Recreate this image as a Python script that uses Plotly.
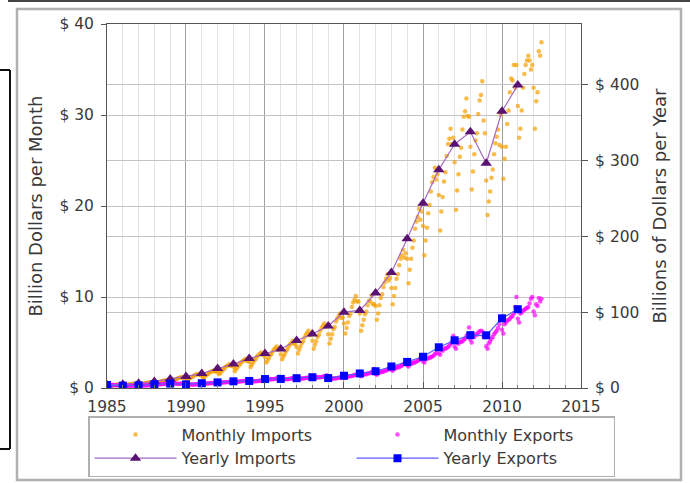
import plotly.graph_objects as go

# ---------------- data ----------------
years_monthly = list(range(1985, 2013))
years_yearly = list(range(1985, 2012))

# yearly totals, billions of dollars per year (right axis)
yearly_imports = [3.9, 4.8, 6.3, 8.5, 12.0, 15.2, 19.0, 25.7, 31.5, 38.8, 45.5, 51.5,
                  62.6, 71.2, 81.8, 100.0, 102.3, 125.2, 152.4, 196.7, 243.5, 287.8,
                  321.4, 337.8, 296.4, 364.9, 399.4]
yearly_exports = [3.9, 3.1, 3.5, 5.0, 5.8, 4.8, 6.3, 7.4, 8.8, 9.3, 11.8, 12.0,
                  12.9, 14.2, 13.1, 16.2, 19.2, 22.1, 28.4, 34.4, 41.2, 53.7,
                  62.9, 69.7, 69.5, 91.9, 103.9]

# monthly values, billions of dollars per month (left axis), one row per year
monthly_imports = [
    [0.30, 0.25, 0.26, 0.28, 0.30, 0.31, 0.34, 0.35, 0.37, 0.38, 0.34, 0.36],
    [0.36, 0.30, 0.32, 0.35, 0.38, 0.40, 0.42, 0.45, 0.46, 0.48, 0.45, 0.43],
    [0.45, 0.38, 0.42, 0.45, 0.50, 0.52, 0.56, 0.58, 0.60, 0.63, 0.58, 0.57],
    [0.60, 0.52, 0.56, 0.62, 0.68, 0.71, 0.76, 0.80, 0.82, 0.86, 0.80, 0.77],
    [0.85, 0.72, 0.78, 0.86, 0.95, 1.00, 1.08, 1.12, 1.16, 1.22, 1.14, 1.10],
    [1.12, 0.92, 0.98, 1.08, 1.20, 1.25, 1.35, 1.42, 1.48, 1.55, 1.45, 1.40],
    [1.38, 1.10, 1.22, 1.35, 1.48, 1.56, 1.70, 1.78, 1.85, 1.92, 1.80, 1.82],
    [1.85, 1.50, 1.65, 1.85, 2.00, 2.10, 2.30, 2.42, 2.50, 2.60, 2.45, 2.45],
    [2.30, 1.85, 2.05, 2.25, 2.48, 2.60, 2.82, 2.95, 3.05, 3.20, 3.00, 3.00],
    [2.85, 2.30, 2.55, 2.80, 3.05, 3.20, 3.45, 3.60, 3.75, 3.90, 3.65, 3.65],
    [3.40, 2.80, 3.05, 3.30, 3.60, 3.75, 4.05, 4.25, 4.40, 4.55, 4.20, 4.25],
    [3.70, 3.15, 3.45, 3.70, 4.05, 4.25, 4.55, 4.80, 4.95, 5.20, 4.90, 4.80],
    [4.50, 3.80, 4.20, 4.55, 4.95, 5.15, 5.55, 5.85, 6.05, 6.30, 5.80, 5.85],
    [5.20, 4.30, 4.75, 5.15, 5.60, 5.85, 6.30, 6.60, 6.85, 7.10, 6.70, 6.75],
    [5.90, 4.90, 5.40, 5.90, 6.45, 6.70, 7.30, 7.65, 7.90, 8.20, 7.70, 7.75],
    [7.10, 6.00, 6.60, 7.20, 7.90, 8.20, 8.90, 9.40, 9.70, 10.10, 9.50, 9.50],
    [8.20, 6.30, 6.90, 7.50, 8.10, 8.40, 9.10, 9.60, 9.50, 10.20, 9.20, 9.20],
    [9.00, 7.50, 8.20, 9.10, 9.90, 10.30, 11.10, 11.60, 12.00, 12.50, 11.80, 12.10],
    [11.00, 9.20, 10.10, 11.00, 12.00, 12.50, 13.50, 14.20, 14.60, 15.20, 14.30, 14.80],
    [14.20, 11.50, 13.00, 14.20, 15.40, 16.20, 17.50, 18.30, 18.80, 19.70, 18.50, 19.40],
    [17.80, 14.60, 16.20, 17.60, 19.20, 20.10, 21.60, 22.60, 23.20, 24.20, 22.90, 23.50],
    [21.20, 17.30, 19.40, 21.00, 22.70, 23.70, 25.50, 26.80, 27.40, 28.50, 26.80, 27.50],
    [24.80, 19.60, 21.70, 23.50, 25.40, 26.40, 28.40, 29.80, 30.40, 31.80, 29.90, 29.80],
    [26.50, 21.80, 23.80, 25.70, 27.20, 28.00, 30.10, 31.60, 32.20, 33.70, 29.40, 28.00],
    [22.80, 19.00, 20.50, 21.60, 23.10, 24.00, 25.70, 26.90, 27.60, 28.40, 26.70, 30.00],
    [26.50, 23.00, 25.20, 26.50, 29.00, 30.50, 32.50, 34.00, 33.80, 35.50, 33.00, 35.50],
    [31.00, 27.50, 28.50, 30.50, 33.00, 34.50, 35.50, 36.00, 36.50, 36.00, 35.00, 35.50],
    [33.00, 28.50, 31.50, 32.50, 37.00, 36.50, 38.00],
]
monthly_exports = [
    [0.30, 0.28, 0.33, 0.30, 0.35, 0.32, 0.29, 0.31, 0.30, 0.34, 0.36, 0.36],
    [0.24, 0.22, 0.27, 0.25, 0.26, 0.27, 0.24, 0.25, 0.27, 0.28, 0.26, 0.29],
    [0.25, 0.24, 0.28, 0.27, 0.30, 0.28, 0.29, 0.31, 0.30, 0.31, 0.32, 0.33],
    [0.34, 0.33, 0.38, 0.40, 0.42, 0.41, 0.43, 0.44, 0.45, 0.46, 0.47, 0.51],
    [0.45, 0.42, 0.48, 0.50, 0.52, 0.46, 0.44, 0.47, 0.46, 0.50, 0.51, 0.55],
    [0.38, 0.35, 0.40, 0.38, 0.42, 0.39, 0.37, 0.40, 0.41, 0.42, 0.43, 0.45],
    [0.45, 0.42, 0.50, 0.48, 0.52, 0.50, 0.53, 0.54, 0.55, 0.56, 0.57, 0.62],
    [0.52, 0.50, 0.60, 0.58, 0.62, 0.61, 0.63, 0.65, 0.64, 0.68, 0.66, 0.75],
    [0.62, 0.58, 0.70, 0.68, 0.72, 0.71, 0.74, 0.76, 0.75, 0.80, 0.80, 0.90],
    [0.70, 0.65, 0.75, 0.72, 0.78, 0.74, 0.76, 0.78, 0.80, 0.82, 0.83, 0.90],
    [0.85, 0.82, 0.95, 0.92, 0.98, 0.96, 0.97, 1.00, 1.02, 1.05, 1.06, 1.20],
    [0.90, 0.85, 0.98, 0.95, 1.00, 0.97, 0.98, 1.02, 1.04, 1.06, 1.07, 1.18],
    [0.95, 0.90, 1.05, 1.00, 1.06, 1.04, 1.06, 1.10, 1.12, 1.14, 1.15, 1.27],
    [1.05, 1.00, 1.15, 1.12, 1.20, 1.15, 1.18, 1.22, 1.25, 1.27, 1.28, 1.41],
    [0.98, 0.92, 1.05, 1.02, 1.08, 1.05, 1.07, 1.10, 1.12, 1.15, 1.17, 1.37],
    [1.15, 1.10, 1.28, 1.25, 1.32, 1.30, 1.33, 1.38, 1.42, 1.45, 1.48, 1.74],
    [1.40, 1.30, 1.50, 1.45, 1.55, 1.52, 1.58, 1.62, 1.65, 1.75, 1.80, 2.08],
    [1.55, 1.45, 1.70, 1.68, 1.80, 1.75, 1.82, 1.88, 1.92, 2.00, 2.10, 2.43],
    [2.00, 1.90, 2.20, 2.15, 2.30, 2.25, 2.32, 2.40, 2.48, 2.60, 2.70, 3.00],
    [2.50, 2.35, 2.70, 2.65, 2.80, 2.75, 2.82, 2.90, 2.98, 3.10, 3.25, 3.60],
    [2.95, 2.80, 3.25, 3.20, 3.35, 3.30, 3.38, 3.45, 3.55, 3.70, 3.85, 4.40],
    [3.80, 3.65, 4.20, 4.10, 4.35, 4.30, 4.40, 4.50, 4.65, 4.85, 5.05, 5.75],
    [4.55, 4.30, 5.00, 4.85, 5.10, 5.05, 5.15, 5.30, 5.45, 5.70, 5.90, 6.65],
    [5.30, 5.00, 5.70, 5.60, 5.90, 5.85, 6.10, 6.20, 6.30, 6.20, 5.70, 5.85],
    [4.60, 4.30, 4.90, 5.10, 5.40, 5.60, 5.90, 6.10, 6.30, 6.60, 7.00, 7.70],
    [6.40, 6.00, 7.00, 7.20, 7.40, 7.50, 7.60, 7.80, 7.90, 8.20, 8.90, 10.00],
    [7.60, 7.20, 8.20, 8.30, 8.50, 8.60, 8.70, 8.80, 8.90, 9.30, 9.80, 10.00],
    [8.40, 8.00, 9.20, 9.00, 9.90, 9.50, 9.80],
]

left_ticks = [0, 10, 20, 30, 40]
right_ticks = [0, 100, 200, 300, 400]


def month_dates(year_list, rows):
    xs, ys = [], []
    for y, row in zip(year_list, rows):
        for m, v in enumerate(row, start=1):
            xs.append(f"{y}-{m:02d}-01")
            ys.append(v)
    return xs, ys


mi_x, mi_y = month_dates(years_monthly, monthly_imports)
me_x, me_y = month_dates(years_monthly, monthly_exports)
yr_x = [f"{y}-01-01" for y in years_yearly]

FONT = "DejaVu Sans"
TXT = "#3a3a3a"

fig = go.Figure()
fig.add_trace(go.Scatter(x=mi_x, y=mi_y, mode="markers", name="Monthly Imports",
                         marker=dict(color="#f5a000", size=4.5, opacity=0.7)))
fig.add_trace(go.Scatter(x=me_x, y=me_y, mode="markers", name="Monthly Exports",
                         marker=dict(color="#ff00ff", size=4.5, opacity=0.7)))
fig.add_trace(go.Scatter(x=yr_x, y=yearly_imports, mode="lines+markers", name="Yearly Imports",
                         yaxis="y2", line=dict(color="#a468c0", width=1.2),
                         marker=dict(symbol="triangle-up", color="#5a1273", size=10)))
fig.add_trace(go.Scatter(x=yr_x, y=yearly_exports, mode="lines+markers", name="Yearly Exports",
                         yaxis="y2", line=dict(color="#5a5aff", width=1.2),
                         marker=dict(symbol="square", color="#0000ff", size=8)))

# helpers: pixel -> paper coordinates (plot area 107..581 x, 24..388 y)
PX0, PW, PY1, PH = 107.0, 474.0, 388.0, 364.0


def xp(px):
    return (px - PX0) / PW


def yp(py):
    return (PY1 - py) / PH


shapes = [
    # outer light frame
    dict(type="rect", xref="paper", yref="paper", x0=xp(17), x1=xp(681), y0=yp(480), y1=yp(9),
         line=dict(color="#b0b0b0", width=2.5), fillcolor="rgba(0,0,0,0)", layer="below"),
    # top dark line
    dict(type="line", xref="paper", yref="paper", x0=xp(8), x1=xp(690), y0=yp(1), y1=yp(1),
         line=dict(color="#444444", width=2)),
    # partial black box on the left edge
    dict(type="line", xref="paper", yref="paper", x0=xp(10), x1=xp(10), y0=yp(70), y1=yp(449),
         line=dict(color="#111111", width=2)),
    dict(type="line", xref="paper", yref="paper", x0=xp(0), x1=xp(10), y0=yp(70), y1=yp(70),
         line=dict(color="#111111", width=2)),
    dict(type="line", xref="paper", yref="paper", x0=xp(0), x1=xp(10), y0=yp(449), y1=yp(449),
         line=dict(color="#111111", width=2)),
]

fig.update_layout(
    width=690, height=483,
    margin=dict(l=107, r=109, t=24, b=95, autoexpand=False),
    paper_bgcolor="white", plot_bgcolor="white",
    font=dict(family=FONT, color=TXT, size=15),
    shapes=shapes,
    xaxis=dict(
        type="date", range=["1985-01-01", "2015-01-01"],
        tick0="1985-01-01", dtick="M60", tickformat="%Y",
        showgrid=True, gridcolor="#a0a0a0", gridwidth=1,
        showline=True, linecolor="#555555", linewidth=1, mirror=True,
        ticks="inside", ticklen=6, tickcolor="#555555",
        ticklabelstandoff=4,
        tickfont=dict(size=15.5, color=TXT),
        minor=dict(dtick="M12", showgrid=True, gridcolor="#e2e2e2", gridwidth=1,
                   ticks="inside", ticklen=3, tickcolor="#777777"),
        zeroline=False, automargin=False,
    ),
    yaxis=dict(
        range=[0, 40], tickvals=left_ticks, ticktext=[f"$ {v}" for v in left_ticks],
        showgrid=True, gridcolor="#c4c4c4", gridwidth=1,
        showline=True, linecolor="#555555", linewidth=1, mirror=True,
        ticks="outside", ticklen=5, tickcolor="#555555", ticklabelstandoff=4,
        tickfont=dict(size=15.5, color=TXT), zeroline=False, automargin=False,
        title=dict(text="Billion Dollars per Month", font=dict(size=18, color=TXT), standoff=12),
    ),
    yaxis2=dict(
        range=[0, 480], tickvals=right_ticks, ticktext=[f"$ {v}" for v in right_ticks],
        overlaying="y", side="right",
        showgrid=True, gridcolor="#c4c4c4", gridwidth=1,
        showline=True, linecolor="#555555", linewidth=1,
        ticks="outside", ticklen=6, tickcolor="#555555", ticklabelstandoff=4,
        tickfont=dict(size=15.5, color=TXT), zeroline=False, automargin=False,
        title=dict(text="Billions of Dollars per Year", font=dict(size=18, color=TXT), standoff=14),
    ),
    legend=dict(
        orientation="h", x=xp(88), y=yp(416), xanchor="left", yanchor="top",
        entrywidth=165, entrywidthmode="pixels", itemwidth=82,
        bgcolor="white", bordercolor="#b0b0b0", borderwidth=1.5,
        font=dict(size=16, color=TXT), traceorder="normal",
    ),
    showlegend=True,
)

fig.write_html("out.html")
